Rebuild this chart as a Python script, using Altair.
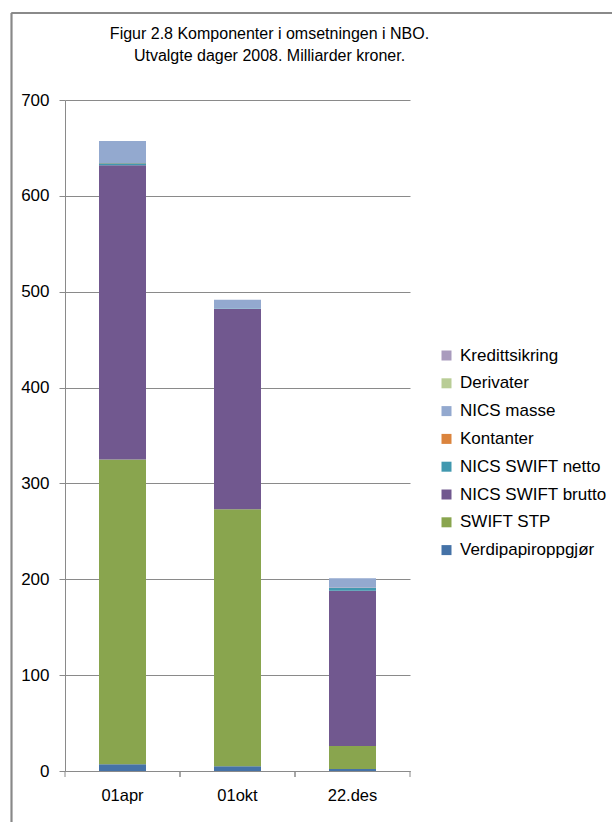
import altair as alt
import pandas as pd

categories = ["01.apr", "01.okt", "22.des"]
series = ["Verdipapiroppgjør", "SWIFT STP", "NICS SWIFT brutto", "NICS SWIFT netto",
          "Kontanter", "NICS masse", "Derivater", "Kredittsikring"]
colors = ["#4572A7", "#89A54E", "#71588F", "#4198AF", "#DB843D", "#93A9CF", "#B9CD96", "#A99BBD"]

verdipapir = [7, 5, 2]
swift_stp = [318, 268, 24]
nics_brutto = [307, 209, 162]
nics_netto = [2, 0.4, 3]
kontanter = [0.3, 0.2, 0.2]
nics_masse = [23, 9, 10]
derivater = [0, 0, 0]
kreditt = [0, 0, 0]

values = [verdipapir, swift_stp, nics_brutto, nics_netto, kontanter, nics_masse, derivater, kreditt]

rows = []
for si, (s, vals) in enumerate(zip(series, values)):
    for c, v in zip(categories, vals):
        rows.append({"dag": c, "serie": s, "verdi": v, "ord": si})
df = pd.DataFrame(rows)
cats_df = pd.DataFrame({"dag": categories})

FONT = "Liberation Sans"
GRAY = "#8a8a8a"

legend_domain = list(reversed(series))
legend_range = list(reversed(colors))

label_expr = "datum.value == '01.apr' ? '01apr' : (datum.value == '01.okt' ? '01okt' : datum.value)"

xscale = alt.Scale(domain=categories, paddingInner=0, paddingOuter=0)

bars = alt.Chart(df).mark_bar(size=47).encode(
    x=alt.X("dag:N", scale=xscale, sort=categories, title=None,
            axis=alt.Axis(labelAngle=0, ticks=False, labelFont=FONT, labelFontSize=16.5,
                          labelColor="#000", domainColor=GRAY, labelPadding=16,
                          labelExpr=label_expr, grid=False)),
    y=alt.Y("verdi:Q", stack="zero", title=None,
            scale=alt.Scale(domain=[0, 700], nice=False),
            axis=alt.Axis(values=list(range(0, 701, 100)), tickSize=6, tickColor=GRAY,
                          domainColor=GRAY, grid=True, gridColor=GRAY, labelFont=FONT,
                          labelFontSize=17, labelColor="#000", labelPadding=10)),
    color=alt.Color("serie:N", scale=alt.Scale(domain=legend_domain, range=legend_range),
                    legend=alt.Legend(title=None, orient="none", legendX=373, legendY=247,
                                      symbolType="square", symbolSize=100, symbolStrokeWidth=0,
                                      labelFont=FONT, labelFontSize=17, labelColor="#000",
                                      rowPadding=9.8, labelOffset=5, labelLimit=300)),
    order=alt.Order("ord:Q", sort="ascending"),
)

ticks_left = alt.Chart(cats_df).mark_rule(color=GRAY).encode(
    x=alt.X("dag:N", scale=xscale, sort=categories, bandPosition=0),
    y=alt.value(671), y2=alt.value(677),
)
ticks_right = alt.Chart(cats_df).mark_rule(color=GRAY).encode(
    x=alt.X("dag:N", scale=xscale, sort=categories, bandPosition=1),
    y=alt.value(671), y2=alt.value(677),
)

frame_top = alt.Chart(cats_df).mark_rule(color="#888888", strokeWidth=1.5).encode(
    x=alt.value(-53.5), x2=alt.value(600), y=alt.value(-87),
)
frame_left = alt.Chart(cats_df).mark_rule(color="#888888", strokeWidth=1.5).encode(
    x=alt.value(-53.5), y=alt.value(-87), y2=alt.value(800),
)

chart = alt.layer(bars, ticks_left, ticks_right, frame_top, frame_left).properties(
    width=345, height=671,
    autosize=alt.AutoSizeParams(type="none"),
    padding={"left": 65, "top": 100, "right": 202, "bottom": 51},
    title=alt.TitleParams(
        text=["Figur 2.8 Komponenter i omsetningen i NBO.", "Utvalgte dager 2008. Milliarder kroner."],
        font=FONT, fontSize=16, fontWeight="normal", color="#000", lineHeight=22,
        anchor="middle", frame="group", dx=32, offset=0, dy=52,
    ),
).configure_view(stroke=None)

chart.save("out.html", embed_options={"renderer": "svg", "actions": False})
